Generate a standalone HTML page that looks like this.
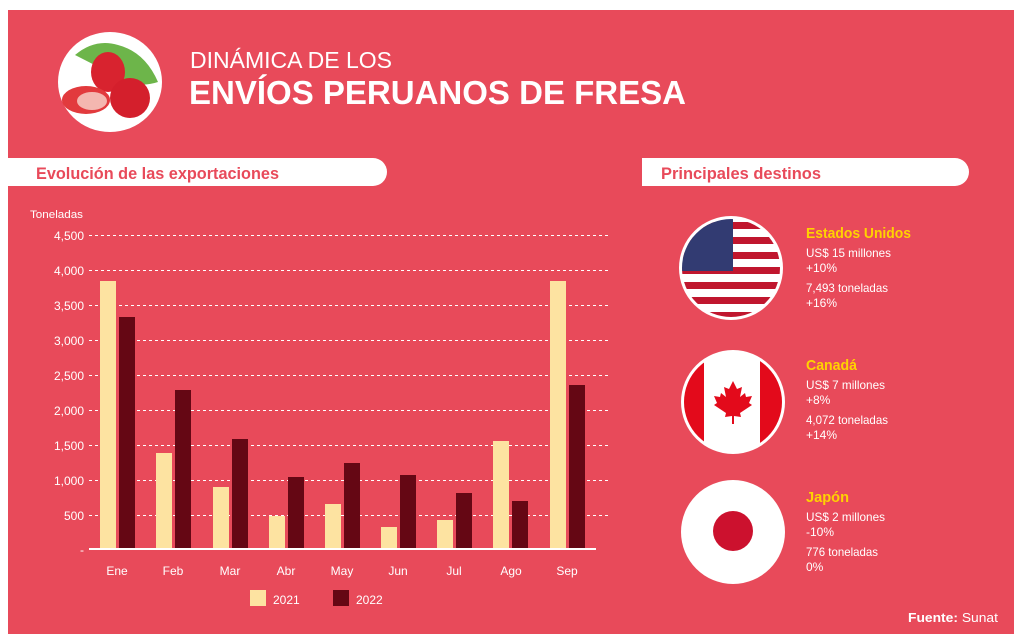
<!DOCTYPE html>
<html><head><meta charset="utf-8"><style>
body{margin:0;width:1023px;height:643px;background:#fff;overflow:hidden;font-family:"Liberation Sans",sans-serif;}
svg{display:block}
</style></head><body>
<svg width="1023" height="643" xmlns="http://www.w3.org/2000/svg" font-family="Liberation Sans, sans-serif">
<rect x="8" y="10" width="1006" height="624" fill="#e84a5a"/>
<!-- strawberry bubble -->
<ellipse cx="110" cy="82" rx="52" ry="50" fill="#fff"/>
<path d="M75 55 Q95 38 118 45 Q145 52 158 82 Q140 88 125 80 Q100 68 75 55Z" fill="#6db54a"/>
<ellipse cx="108" cy="72" rx="17" ry="20" fill="#d8232f"/>
<ellipse cx="86" cy="100" rx="24" ry="14" fill="#e23a3d"/>
<ellipse cx="92" cy="101" rx="15" ry="9" fill="#f4b7b0"/>
<ellipse cx="130" cy="98" rx="20" ry="20" fill="#d41f2c"/>
<text x="190" y="68" fill="#fff" font-size="23" textLength="202" lengthAdjust="spacingAndGlyphs">DINÁMICA DE LOS</text>
<text x="189" y="104" fill="#fff" font-size="33" font-weight="bold" textLength="497" lengthAdjust="spacingAndGlyphs">ENVÍOS PERUANOS DE FRESA</text>
<!-- section pills -->
<path d="M8 158 H373 A14 14 0 0 1 373 186 H8Z" fill="#fff"/>
<text x="36" y="179" fill="#e84a5a" font-size="17" font-weight="bold" textLength="243" lengthAdjust="spacingAndGlyphs">Evolución de las exportaciones</text>
<path d="M642 158 H955 A14 14 0 0 1 955 186 H642Z" fill="#fff"/>
<text x="661" y="179" fill="#e84a5a" font-size="17" font-weight="bold" textLength="160" lengthAdjust="spacingAndGlyphs">Principales destinos</text>
<!-- axis -->
<text x="30" y="218" fill="#fff" font-size="11" textLength="53" lengthAdjust="spacingAndGlyphs">Toneladas</text>
<g fill="#fff" font-size="12" text-anchor="end">
<text x="84" y="240">4,500</text><text x="84" y="275">4,000</text><text x="84" y="310">3,500</text>
<text x="84" y="345">3,000</text><text x="84" y="380">2,500</text><text x="84" y="415">2,000</text>
<text x="84" y="450">1,500</text><text x="84" y="485">1,000</text><text x="84" y="520">500</text>
<text x="84" y="554">-</text></g>
<g stroke="#fff" stroke-width="1" stroke-dasharray="3,3">
<line x1="89" x2="610" y1="235.5" y2="235.5"/><line x1="89" x2="610" y1="270.5" y2="270.5"/>
<line x1="89" x2="610" y1="305.5" y2="305.5"/><line x1="89" x2="610" y1="340.5" y2="340.5"/>
<line x1="89" x2="610" y1="375.5" y2="375.5"/><line x1="89" x2="610" y1="410.5" y2="410.5"/>
<line x1="89" x2="610" y1="445.5" y2="445.5"/><line x1="89" x2="610" y1="480.5" y2="480.5"/>
<line x1="89" x2="610" y1="515.5" y2="515.5"/></g>
<g fill="#fde3a1">
<rect x="100" y="281" width="16" height="267"/><rect x="156" y="453" width="16" height="95"/>
<rect x="213" y="487" width="16" height="61"/><rect x="269" y="516" width="16" height="32"/>
<rect x="325" y="504" width="16" height="44"/><rect x="381" y="527" width="16" height="21"/>
<rect x="437" y="520" width="16" height="28"/><rect x="493" y="441" width="16" height="107"/>
<rect x="550" y="281" width="16" height="267"/></g>
<g fill="#650714">
<rect x="119" y="317" width="16" height="231"/><rect x="175" y="390" width="16" height="158"/>
<rect x="232" y="439" width="16" height="109"/><rect x="288" y="477" width="16" height="71"/>
<rect x="344" y="463" width="16" height="85"/><rect x="400" y="475" width="16" height="73"/>
<rect x="456" y="493" width="16" height="55"/><rect x="512" y="501" width="16" height="47"/>
<rect x="569" y="385" width="16" height="163"/></g>
<rect x="89" y="548" width="507" height="2" fill="#fff"/>
<g fill="#fff" font-size="12" text-anchor="middle">
<text x="117" y="575">Ene</text><text x="173" y="575">Feb</text><text x="230" y="575">Mar</text>
<text x="286" y="575">Abr</text><text x="342" y="575">May</text><text x="398" y="575">Jun</text>
<text x="454" y="575">Jul</text><text x="511" y="575">Ago</text><text x="567" y="575">Sep</text></g>
<rect x="250" y="590" width="16" height="16" fill="#fde3a1"/>
<text x="273" y="604" fill="#fff" font-size="12">2021</text>
<rect x="333" y="590" width="16" height="16" fill="#650714"/>
<text x="356" y="604" fill="#fff" font-size="12">2022</text>
<!-- flags -->
<defs>
<clipPath id="c1"><circle cx="731" cy="268" r="49"/></clipPath>
<clipPath id="c2"><circle cx="733" cy="402" r="49"/></clipPath>
</defs>
<circle cx="731" cy="268" r="52" fill="#fff"/>
<g clip-path="url(#c1)">
<rect x="680" y="218" width="104" height="100" fill="#fff"/>
<g fill="#c0162e">
<rect x="680" y="222" width="104" height="7"/><rect x="680" y="237" width="104" height="7"/>
<rect x="680" y="252" width="104" height="7"/><rect x="680" y="267" width="104" height="7"/>
<rect x="680" y="282" width="104" height="7"/><rect x="680" y="297" width="104" height="7"/>
<rect x="680" y="312" width="104" height="7"/></g>
<rect x="680" y="218" width="53" height="53" fill="#323b72"/>
</g>
<circle cx="733" cy="402" r="52" fill="#fff"/>
<g clip-path="url(#c2)">
<rect x="682" y="350" width="22" height="104" fill="#e30a1b"/>
<rect x="760" y="350" width="22" height="104" fill="#e30a1b"/>
</g>
<path d="M733 381 l4 8 5-2 -2 10 5-4 1 4 6-1 -3 7 3 2 -12 8 1 4 -7-1 v8 h-2 v-8 l-7 1 1-4 -12-8 3-2 -3-7 6 1 1-4 5 4 -2-10 5 2z" fill="#e30a1b"/>
<circle cx="733" cy="532" r="52" fill="#fff"/>
<circle cx="733" cy="531" r="20" fill="#cc112e"/>
<!-- texts -->
<g font-size="12" fill="#fff">
<text x="806" y="238" fill="#ffd200" font-size="15" font-weight="bold" textLength="105" lengthAdjust="spacingAndGlyphs">Estados Unidos</text>
<text x="806" y="257" textLength="85" lengthAdjust="spacingAndGlyphs">US$ 15 millones</text><text x="806" y="272">+10%</text>
<text x="806" y="292" textLength="82" lengthAdjust="spacingAndGlyphs">7,493 toneladas</text><text x="806" y="307">+16%</text>
<text x="806" y="370" fill="#ffd200" font-size="15" font-weight="bold" textLength="51" lengthAdjust="spacingAndGlyphs">Canadá</text>
<text x="806" y="389" textLength="79" lengthAdjust="spacingAndGlyphs">US$ 7 millones</text><text x="806" y="404">+8%</text>
<text x="806" y="424" textLength="82" lengthAdjust="spacingAndGlyphs">4,072 toneladas</text><text x="806" y="439">+14%</text>
<text x="806" y="502" fill="#ffd200" font-size="15" font-weight="bold" textLength="43" lengthAdjust="spacingAndGlyphs">Japón</text>
<text x="806" y="521" textLength="79" lengthAdjust="spacingAndGlyphs">US$ 2 millones</text><text x="806" y="536">-10%</text>
<text x="806" y="556" textLength="72" lengthAdjust="spacingAndGlyphs">776 toneladas</text><text x="806" y="571">0%</text>
<text x="908" y="622" font-size="13" textLength="90" lengthAdjust="spacingAndGlyphs"><tspan font-weight="bold">Fuente:</tspan> Sunat</text>
</g>
</svg>
</body></html>
